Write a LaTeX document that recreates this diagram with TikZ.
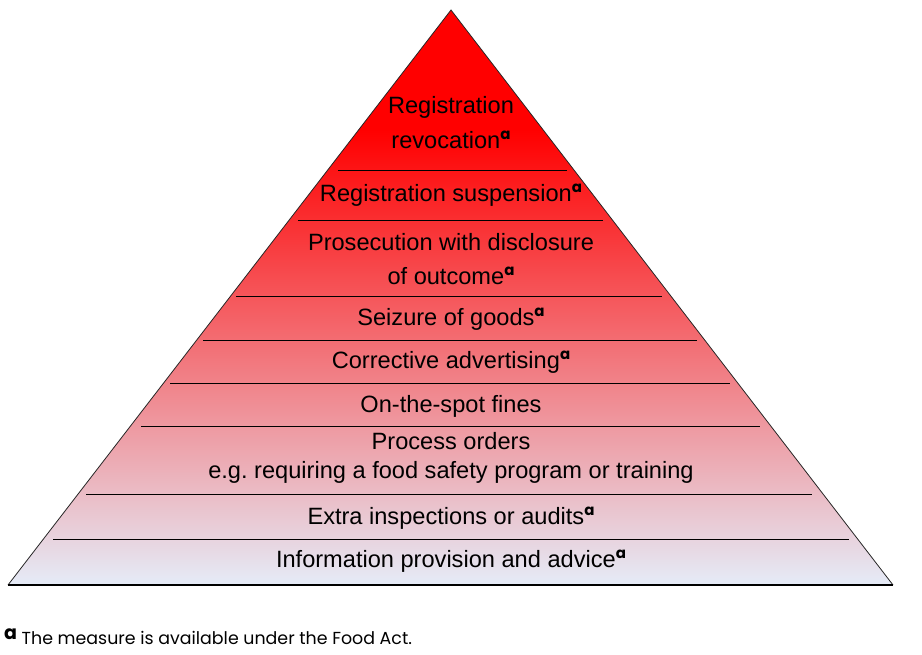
\documentclass[tikz,border=0pt]{standalone}
\usepackage{fontspec}
\setmainfont{Liberation Sans}
\newfontfamily\notefont{Poppins}
\usepackage{xcolor}
\usetikzlibrary{positioning, calc}

\definecolor{tiptop}{RGB}{255,0,0}
\definecolor{tiermid}{RGB}{242,118,133}
\definecolor{tierbase}{RGB}{229,236,248}
\definecolor{baseline}{RGB}{175,25,25}

\newcommand{\actmark}{\raisebox{9pt}{\notefont\bfseries\fontsize{15}{15}\selectfont a}}

\begin{document}
\frenchspacing
\begin{tikzpicture}[
  x=1pt, y=-1pt,
  tierlabel/.style={align=center, inner sep=0pt, font=\fontsize{23.6}{29}\selectfont},
  tierline/.style={black, line width=0.9pt},
  edgeline/.style={black!85, line width=0.8pt},
  footnote/.style={anchor=west, inner sep=0pt, font=\notefont\fontsize{17.4}{20}\selectfont},
]
\useasboundingbox (0,0) rectangle (922,654);

%% ── Pyramid corners ──────────────────────────────────────────────────────────
\coordinate (apex)  at (451, 10);
\coordinate (baseL) at (8, 585);
\coordinate (baseR) at (893, 585);

%% ── Colour fill ──────────────────────────────────────────────────────────────
\begin{scope}
  \clip (apex) -- (baseR) -- (baseL) -- cycle;
  \fill[tiptop] (0,0) rectangle (922,131);
  \shade[top color=tiptop, middle color=tiermid, bottom color=tierbase]
    (0,130) rectangle (922,586);
\end{scope}

%% ── Outline ──────────────────────────────────────────────────────────────────
\draw[edgeline] (baseL) -- (apex) -- (baseR);
\draw[baseline, line width=2.6pt] (baseL) -- (baseR);

%% ── Tier dividers ────────────────────────────────────────────────────────────
\foreach \y/\xa/\xb in {170/338/567, 220/298/603, 296/236/662, 340/203/697,
                        383/170/730, 426/141/760, 494/86/812, 539/53/849} {
  \draw[tierline] (\xa,\y) -- (\xb,\y);
}

%% ── Tier labels ──────────────────────────────────────────────────────────────
\node[tierlabel] (t1) at (451, 123) {Registration\\[6pt]revocation\actmark};
\node[tierlabel] (t2) at (451, 195) {Registration suspension\actmark};
\node[tierlabel] (t3) at (451, 259) {Prosecution with disclosure\\[5pt]of outcome\actmark};
\node[tierlabel] (t4) at (451, 319) {Seizure of goods\actmark};
\node[tierlabel] (t5) at (451, 362) {Corrective advertising\actmark};
\node[tierlabel] (t6) at (451, 406) {On-the-spot fines};
\node[tierlabel] (t7) at (451, 458) {Process orders\\e.g. requiring a food safety program or training};
\node[tierlabel] (t8) at (451, 518) {Extra inspections or audits\actmark};
\node[tierlabel] (t9) at (451, 561) {Information provision and advice\actmark};

%% ── Footnote ─────────────────────────────────────────────────────────────────
\node[footnote] (note) at (4, 637)
  {\raisebox{5pt}{\bfseries\fontsize{19}{19}\selectfont a} The measure is available under the Food Act.};

\end{tikzpicture}
\end{document}
